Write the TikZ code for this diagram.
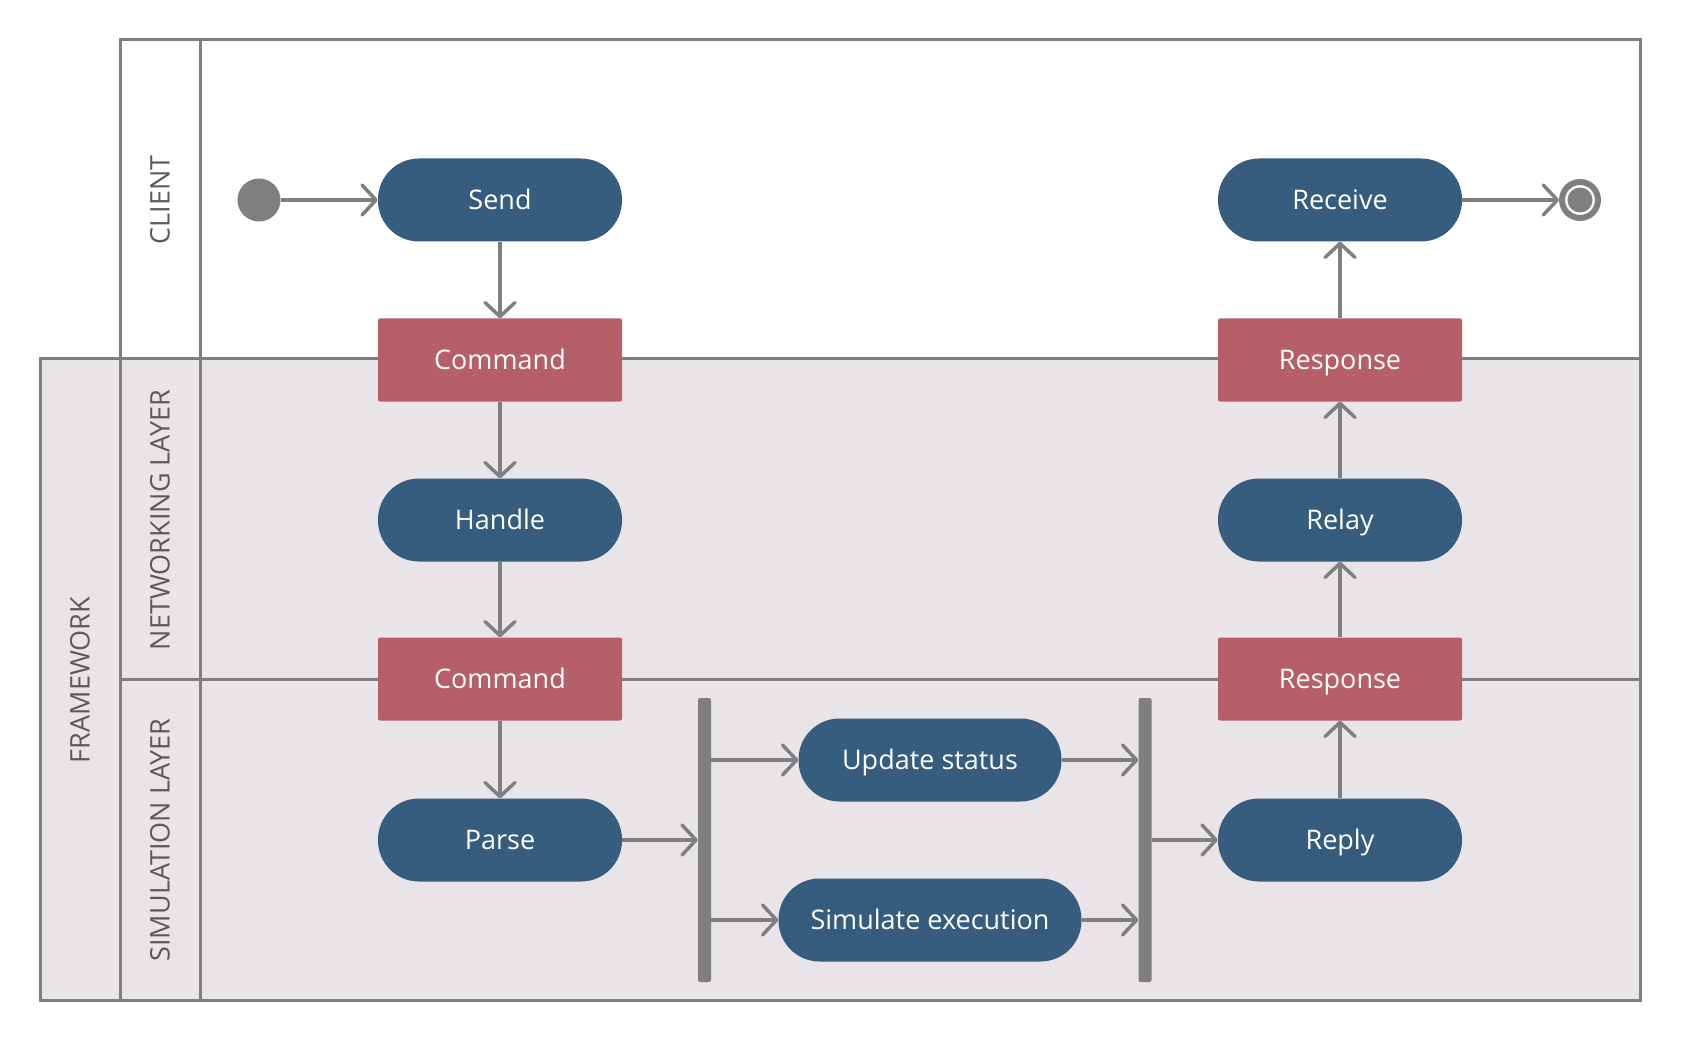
\documentclass[tikz,border=0pt]{standalone}
\usepackage{fontspec}
\setmainfont{Open Sans}
\usetikzlibrary{arrows.meta}
\definecolor{linegray}{HTML}{7F7F7F}
\definecolor{actblue}{HTML}{365C7E}
\definecolor{objred}{HTML}{B65F69}
\definecolor{lanebg}{HTML}{E8E4E8}
\definecolor{labelgray}{HTML}{5A5A5A}
\begin{document}
\begin{tikzpicture}[x=1pt,y=-1pt,
  lane/.style={draw=linegray,line width=3pt},
  nodefont/.style={font=\fontsize{27}{31}\selectfont,text height=19.3pt,text depth=0pt},
  act/.style={nodefont,fill=actblue,text=white,rounded corners=41pt,minimum height=83pt,minimum width=244pt,inner sep=0pt},
  obj/.style={nodefont,fill=objred,text=white,rounded corners=2pt,minimum height=83pt,minimum width=244pt,inner sep=0pt},
  flow/.style={draw=linegray,line width=3.5pt,-{Straight Barb[length=14pt,width=30pt,round]}},
  bar/.style={fill=linegray,rounded corners=2pt,minimum width=13pt,minimum height=284pt,inner sep=0pt},
  lanelabel/.style={font=\fontsize{27}{31}\selectfont,text height=19.3pt,text depth=0pt,text=labelgray,rotate=90}
]
\useasboundingbox (0,0) rectangle (1681,1040);
% lanes
\draw[lane,fill=white] (120,40) rectangle (1640,359);
\draw[lane,fill=lanebg] (40,359) rectangle (1640,1000);
\draw[lane] (120,359) -- (120,1000);
\draw[lane] (200,40) -- (200,1000);
\draw[lane] (120,679) -- (1640,679);
\node[lanelabel] (lclient) at (160,200) {CLIENT};
\node[lanelabel] (lnet) at (160,520) {NETWORKING LAYER};
\node[lanelabel] (lsim) at (160,840) {SIMULATION LAYER};
\node[lanelabel] (lfw) at (80,680) {FRAMEWORK};
% nodes
\node[circle,fill=linegray,minimum size=43pt,inner sep=0pt] (start) at (259,200) {};
\node[circle,draw=linegray,line width=6pt,fill=white,minimum size=36pt,inner sep=0pt] (end) at (1580,200) {};
\fill[linegray] (end.center) circle (12.5pt);
\node[act] (send) at (500,200) {Send};
\node[obj] (cmd1) at (500,360) {Command};
\node[act] (handle) at (500,520) {Handle};
\node[obj] (cmd2) at (500,679) {Command};
\node[act] (parse) at (500,840) {Parse};
\node[act] (receive) at (1340,200) {Receive};
\node[obj] (resp1) at (1340,360) {Response};
\node[act] (relay) at (1340,520) {Relay};
\node[obj] (resp2) at (1340,679) {Response};
\node[act] (reply) at (1340,840) {Reply};
\node[act,minimum width=263pt] (update) at (930,760) {Update status};
\node[act,minimum width=303pt] (simulate) at (930,920) {Simulate execution};
\node[bar] (fork) at (704.5,840) {};
\node[bar] (join) at (1145,840) {};
% connectors
\draw[flow] (start) -- (send);
\draw[flow] (send) -- (cmd1);
\draw[flow] (cmd1) -- (handle);
\draw[flow] (handle) -- (cmd2);
\draw[flow] (cmd2) -- (parse);
\draw[flow] (parse) -- (parse -| fork.west);
\draw[flow] (update -| fork.east) -- (update);
\draw[flow] (simulate -| fork.east) -- (simulate);
\draw[flow] (update) -- (update -| join.west);
\draw[flow] (simulate) -- (simulate -| join.west);
\draw[flow] (reply -| join.east) -- (reply);
\draw[flow] (reply) -- (resp2);
\draw[flow] (resp2) -- (relay);
\draw[flow] (relay) -- (resp1);
\draw[flow] (resp1) -- (receive);
\draw[flow] (receive) -- (end);
\end{tikzpicture}
\end{document}
